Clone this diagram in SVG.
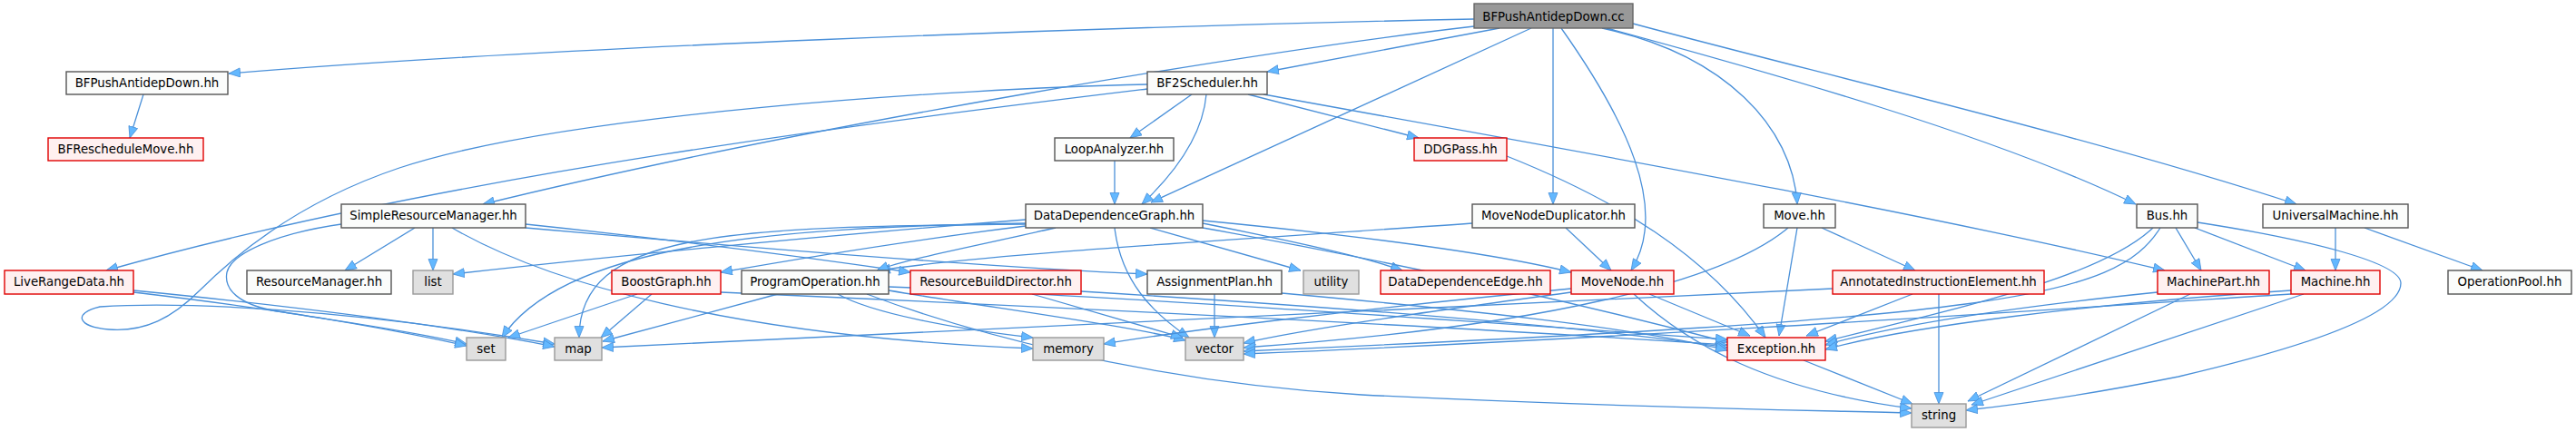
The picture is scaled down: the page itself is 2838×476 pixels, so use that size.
<svg xmlns="http://www.w3.org/2000/svg" width="2838" height="476" viewBox="0 0 2838 476">
<style>
.e path{fill:none;stroke:#4a90d9;stroke-width:1.3;marker-end:url(#ah)}
.n rect{fill:#fbfcfb;stroke:#555555;stroke-width:1.4}
.r rect{fill:#fff0f0;stroke:#e00000;stroke-width:1.4}
.g rect{fill:#e0e0e0;stroke:#999999;stroke-width:1.4}
.root rect{fill:#999999;stroke:#666666;stroke-width:1.4}
text{font-family:"DejaVu Sans","Liberation Sans",sans-serif;font-size:13.3px;fill:#000;text-anchor:middle}
</style>
<defs>
<marker id="ah" markerUnits="userSpaceOnUse" markerWidth="14" markerHeight="12" refX="13" refY="5.5" orient="auto" viewBox="0 0 14 12">
<path d="M0.5,0.5 L13,5.5 L0.5,10.5 z" fill="#63b8ff" stroke="#4a90d9" stroke-width="0.8"/>
</marker>
</defs>
<rect width="2838" height="476" fill="#ffffff"/>
<g id="connectors" class="e">
<path d="M1624,21 C1200,30 600,52 252,81"/>
<path d="M158,104 L143,152"/>
<path d="M1652,31 L1396,79"/>
<path d="M1624,29 C1400,55 900,135 532,225"/>
<path d="M1264,98 C1000,130 500,190 117,298"/>
<path d="M1264,93 C1050,98 620,125 440,185 C330,222 260,280 220,320 C190,350 160,366 120,363 C85,360 80,345 110,338 C200,332 380,340 611,379"/>
<path d="M376,247 C300,258 255,280 250,300 C246,320 265,335 300,342 C380,355 450,364 514,379"/>
<path d="M1313,104 L1245,152"/>
<path d="M1228,177 L1228,225"/>
<path d="M1329,104 C1325,150 1295,190 1258,225"/>
<path d="M1687,31 L1268,223"/>
<path d="M1375,104 L1563,152"/>
<path d="M1392,104 C1700,160 2100,230 2385,298"/>
<path d="M1711,31 L1711,225"/>
<path d="M1720,31 C1790,130 1840,230 1797,298"/>
<path d="M1765,31 C1900,60 1975,140 1980,225"/>
<path d="M1770,31 C1950,80 2200,150 2353,225"/>
<path d="M1799,26 C2000,80 2300,150 2530,225"/>
<path d="M1660,172 C1780,220 1880,280 1945,372"/>
<path d="M1725,251 L1775,298"/>
<path d="M1622,246 C1400,262 1100,278 968,298"/>
<path d="M457,251 L380,298"/>
<path d="M477,251 L477,298"/>
<path d="M498,251 C600,310 800,370 1138,384"/>
<path d="M579,247 C750,265 900,285 1003,300"/>
<path d="M579,251 C850,275 1100,295 1264,302"/>
<path d="M1130,242 C900,260 650,285 499,302"/>
<path d="M1130,246 C850,250 620,270 553,372"/>
<path d="M1130,247 C800,250 638,255 638,372"/>
<path d="M1130,249 C1000,265 880,285 794,300"/>
<path d="M1163,251 C1080,270 1000,285 966,298"/>
<path d="M1228,251 C1235,310 1270,345 1310,372"/>
<path d="M1267,251 L1433,298"/>
<path d="M1325,246 C1420,265 1500,282 1545,298"/>
<path d="M1325,243 C1500,260 1650,280 1731,300"/>
<path d="M1325,251 C1600,300 1800,350 1903,377"/>
<path d="M147,322 C300,340 420,360 514,381"/>
<path d="M147,320 C350,340 500,360 611,382"/>
<path d="M702,324 L560,372"/>
<path d="M718,324 L662,372"/>
<path d="M794,322 C1200,340 1600,360 1903,380"/>
<path d="M857,324 L664,376"/>
<path d="M923,324 C960,345 1050,362 1138,372"/>
<path d="M955,324 C1050,360 1250,420 1500,435 C1800,450 2000,452 2106,455"/>
<path d="M979,320 C1100,340 1250,360 1306,375"/>
<path d="M979,316 C1300,330 1700,360 1903,374"/>
<path d="M1137,324 L1303,372"/>
<path d="M1191,321 C1500,340 1750,360 1903,383"/>
<path d="M1338,324 L1338,372"/>
<path d="M1412,323 C1600,340 1800,360 1903,386"/>
<path d="M1817,324 L1928,370"/>
<path d="M1800,324 C1860,380 1950,430 2106,450"/>
<path d="M1731,322 C1600,340 1450,360 1370,378"/>
<path d="M1731,318 C1500,340 1300,365 1216,379"/>
<path d="M1980,251 L1960,370"/>
<path d="M2007,251 L2110,298"/>
<path d="M1970,251 C1900,310 1700,360 1370,383"/>
<path d="M2107,324 L1990,370"/>
<path d="M2136,324 L2136,445"/>
<path d="M2019,318 C1500,345 1000,368 663,383"/>
<path d="M2397,251 L2425,298"/>
<path d="M2418,251 L2540,298"/>
<path d="M2372,251 C2320,300 2200,330 2011,376"/>
<path d="M2380,251 C2330,330 2200,350 1370,387"/>
<path d="M2413,324 L2168,442"/>
<path d="M2538,324 L2172,446"/>
<path d="M2421,245 C2550,265 2645,290 2645,312 C2645,345 2550,380 2400,415 C2300,435 2230,445 2166,452"/>
<path d="M2377,322 C2250,335 2100,355 2011,380"/>
<path d="M2524,320 C2300,335 2100,360 2011,385"/>
<path d="M2524,324 C2200,345 1800,372 1370,390"/>
<path d="M2573,251 L2573,298"/>
<path d="M2605,251 L2735,298"/>
<path d="M1987,397 L2107,445"/>
</g>
<g id="node_root" class="root"><rect x="1624" y="4" width="175" height="27"/><text x="1711.5" y="22.5">BFPushAntidepDown.cc</text></g>
<g id="node_BFPushAntidepDown_hh" class="n"><rect x="73" y="79" width="178" height="25"/><text x="162" y="96">BFPushAntidepDown.hh</text></g>
<g id="node_BF2Scheduler" class="n"><rect x="1264" y="79" width="132" height="25"/><text x="1330" y="96">BF2Scheduler.hh</text></g>
<g id="node_BFRescheduleMove" class="r"><rect x="53" y="152" width="171" height="25"/><text x="138.5" y="169">BFRescheduleMove.hh</text></g>
<g id="node_LoopAnalyzer" class="n"><rect x="1162" y="152" width="131" height="25"/><text x="1227.5" y="169">LoopAnalyzer.hh</text></g>
<g id="node_DDGPass" class="r"><rect x="1558" y="152" width="102" height="25"/><text x="1609" y="169">DDGPass.hh</text></g>
<g id="node_SimpleResourceManager" class="n"><rect x="376" y="225" width="203" height="26"/><text x="477.5" y="242">SimpleResourceManager.hh</text></g>
<g id="node_DataDependenceGraph" class="n"><rect x="1130" y="225" width="195" height="26"/><text x="1227.5" y="242">DataDependenceGraph.hh</text></g>
<g id="node_MoveNodeDuplicator" class="n"><rect x="1622" y="225" width="179" height="26"/><text x="1711.5" y="242">MoveNodeDuplicator.hh</text></g>
<g id="node_Move" class="n"><rect x="1943" y="225" width="79" height="26"/><text x="1982.5" y="242">Move.hh</text></g>
<g id="node_Bus" class="n"><rect x="2354" y="225" width="67" height="26"/><text x="2387.5" y="242">Bus.hh</text></g>
<g id="node_UniversalMachine" class="n"><rect x="2493" y="225" width="160" height="26"/><text x="2573" y="242">UniversalMachine.hh</text></g>
<g id="node_LiveRangeData" class="r"><rect x="5" y="298" width="142" height="26"/><text x="76" y="315">LiveRangeData.hh</text></g>
<g id="node_ResourceManager" class="n"><rect x="272" y="298" width="159" height="26"/><text x="351.5" y="315">ResourceManager.hh</text></g>
<g id="node_list" class="g"><rect x="455" y="298" width="44" height="26"/><text x="477" y="315">list</text></g>
<g id="node_BoostGraph" class="r"><rect x="674" y="298" width="120" height="26"/><text x="734" y="315">BoostGraph.hh</text></g>
<g id="node_ProgramOperation" class="n"><rect x="817" y="298" width="162" height="26"/><text x="898" y="315">ProgramOperation.hh</text></g>
<g id="node_ResourceBuildDirector" class="r"><rect x="1003" y="298" width="188" height="26"/><text x="1097" y="315">ResourceBuildDirector.hh</text></g>
<g id="node_AssignmentPlan" class="n"><rect x="1264" y="298" width="148" height="26"/><text x="1338" y="315">AssignmentPlan.hh</text></g>
<g id="node_utility" class="g"><rect x="1436" y="298" width="61" height="26"/><text x="1466.5" y="315">utility</text></g>
<g id="node_DataDependenceEdge" class="r"><rect x="1521" y="298" width="187" height="26"/><text x="1614.5" y="315">DataDependenceEdge.hh</text></g>
<g id="node_MoveNode" class="r"><rect x="1731" y="298" width="113" height="26"/><text x="1787.5" y="315">MoveNode.hh</text></g>
<g id="node_AnnotatedInstructionElement" class="r"><rect x="2019" y="298" width="233" height="26"/><text x="2135.5" y="315">AnnotatedInstructionElement.hh</text></g>
<g id="node_MachinePart" class="r"><rect x="2377" y="298" width="123" height="26"/><text x="2438.5" y="315">MachinePart.hh</text></g>
<g id="node_Machine" class="r"><rect x="2524" y="298" width="98" height="26"/><text x="2573" y="315">Machine.hh</text></g>
<g id="node_OperationPool" class="n"><rect x="2697" y="298" width="136" height="26"/><text x="2765" y="315">OperationPool.hh</text></g>
<g id="node_set" class="g"><rect x="514" y="372" width="43" height="25"/><text x="535.5" y="389">set</text></g>
<g id="node_map" class="g"><rect x="611" y="372" width="52" height="25"/><text x="637" y="389">map</text></g>
<g id="node_memory" class="g"><rect x="1138" y="372" width="78" height="25"/><text x="1177" y="389">memory</text></g>
<g id="node_vector" class="g"><rect x="1306" y="372" width="64" height="25"/><text x="1338" y="389">vector</text></g>
<g id="node_Exception" class="r"><rect x="1903" y="372" width="108" height="25"/><text x="1957" y="389">Exception.hh</text></g>
<g id="node_string" class="g"><rect x="2106" y="445" width="60" height="26"/><text x="2136" y="462">string</text></g>
</svg>
